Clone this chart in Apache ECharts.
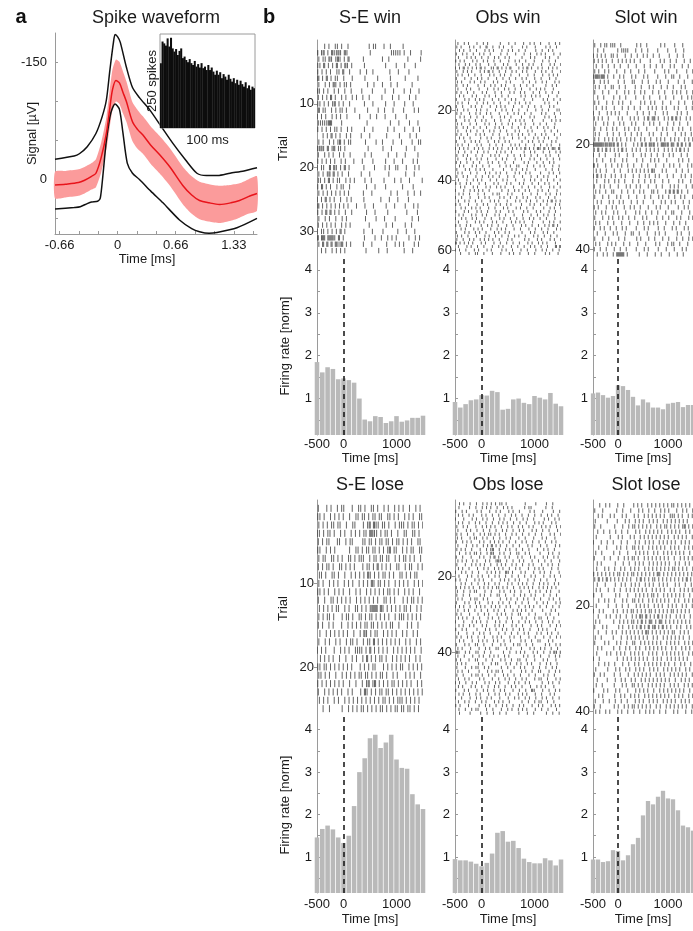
<!DOCTYPE html>
<html>
<head>
<meta charset="utf-8">
<script src="https://cdn.jsdelivr.net/npm/echarts@6/dist/echarts.min.js"></script>
<style>
  html, body { margin: 0; padding: 0; background: #fff; }
  #c { width: 693px; height: 931px; }
</style>
</head>
<body>
<div id="c"></div>
<script>
// ---------- Panel a: spike waveform (time in ms, signal in µV) ----------
const meanTime = [-0.72, -0.6, -0.45, -0.38, -0.3, -0.25, -0.19, -0.13, -0.09, -0.06, -0.02, 0.02, 0.06, 0.1, 0.17, 0.23, 0.29, 0.38, 0.48, 0.6, 0.75, 0.85, 0.94, 1.05, 1.17, 1.3, 1.4, 1.5, 1.6];
const meanSignal = [7, 6, 4, 1, -4, -8, -28, -59, -92, -115, -127, -124, -112, -100, -74, -64, -57, -44, -32, -16, 8, 20, 27, 30, 32, 30, 27, 22, 18];
const sdSignal = [17, 17, 17, 17, 17, 18, 19, 21, 24, 26, 27, 27, 27, 26, 25, 25, 24, 24, 24, 24, 24, 24, 24, 24, 24, 23, 22, 22, 22];

const upperTime = [-0.72, -0.5, -0.44, -0.35, -0.25, -0.18, -0.13, -0.09, -0.05, -0.03, 0.0, 0.03, 0.1, 0.17, 0.25, 0.37, 0.5, 0.63, 0.78, 0.91, 1.02, 1.15, 1.29, 1.45, 1.6];
const upperSignal = [-26, -30, -33, -42, -59, -80, -102, -140, -175, -186, -183, -176, -144, -118, -105, -89, -68, -47, -25, -8, -5, -5, -8, -11, -15];

const lowerTime = [-0.72, -0.5, -0.43, -0.35, -0.3, -0.23, -0.2, -0.17, -0.13, -0.08, -0.03, 0.02, 0.06, 0.11, 0.17, 0.25, 0.38, 0.52, 0.71, 0.85, 0.94, 1.05, 1.14, 1.37, 1.6];
const lowerSignal = [38, 36, 35, 31, 29, 28, 24, -5, -50, -85, -97, -90, -60, -21, -8, 0, 15, 30, 52, 63, 67, 69, 68, 62, 50];

const waveTickPos = [-6/9, -4/9, -2/9, 0, 2/9, 4/9, 6/9, 8/9, 10/9, 12/9, 14/9];
const waveLabelPos = [-2/3, 0, 2/3, 4/3];
const waveLabels = ['-0.66', '0', '0.66', '1.33'];
const signalTicks = [-150, -100, -50, 0, 50];
const signalLabels = [-150, 0];

// Inter-spike interval histogram (inset), spike counts per bin
const isiCounts = [207, 276, 270, 263, 286, 260, 288, 254, 244, 252, 233, 246, 254, 223, 228, 217, 210, 220, 207, 201, 214, 196, 204, 193, 207, 191, 196, 185, 201, 185, 193, 180, 170, 183, 170, 178, 159, 172, 164, 154, 170, 157, 148, 159, 143, 154, 138, 151, 140, 132, 146, 127, 136, 122, 132, 127];

// ---------- Panel b: PSTH (100 ms bins, centres in ms) ----------
const binCenters = [-500, -400, -300, -200, -100, 0, 100, 200, 300, 400, 500, 600, 700, 800, 900, 1000, 1100, 1200, 1300, 1400, 1500];
const rateSEwin   = [1.85, 1.61, 1.73, 1.69, 1.45, 1.47, 1.43, 1.37, 1.0, 0.51, 0.47, 0.59, 0.57, 0.43, 0.47, 0.59, 0.46, 0.49, 0.55, 0.55, 0.6];
const rateObswin  = [0.92, 0.79, 0.87, 0.96, 0.98, 1.08, 1.07, 1.18, 1.15, 0.74, 0.76, 0.98, 1.0, 0.9, 0.87, 1.06, 1.02, 0.98, 1.13, 0.88, 0.82];
const rateSlotwin = [1.12, 1.14, 1.08, 1.02, 1.06, 1.31, 1.29, 1.2, 1.04, 0.84, 0.98, 0.91, 0.79, 0.79, 0.75, 0.88, 0.9, 0.92, 0.8, 0.85, 0.85];
const rateSElose  = [1.46, 1.66, 1.74, 1.65, 1.46, 1.33, 1.5, 2.2, 3.0, 3.33, 3.8, 3.88, 3.57, 3.7, 3.88, 3.3, 3.1, 3.08, 2.48, 2.24, 2.13];
const rateObslose = [0.95, 0.92, 0.92, 0.89, 0.84, 0.78, 0.86, 1.08, 1.57, 1.61, 1.36, 1.38, 1.21, 0.96, 0.88, 0.85, 0.85, 0.97, 0.92, 0.8, 0.94];
const rateSlotlose = [0.94, 0.94, 0.88, 0.9, 1.16, 1.14, 0.92, 1.04, 1.3, 1.45, 1.98, 2.32, 2.24, 2.42, 2.56, 2.38, 2.36, 2.1, 1.74, 1.7, 1.62];

const rateTicks = [0.5, 1, 1.5, 2, 2.5, 3, 3.5, 4];
const rateLabels = [1, 2, 3, 4];
const timeLabels = [-500, 0, 1000];

const trialTicksSEwin = [10, 20, 30];
const trialTicksObswin = [20, 40, 60];
const trialTicksSlotwin = [20, 40];
const trialTicksSElose = [10, 20];
const trialTicksObslose = [20, 40];
const trialTicksSlotlose = [20, 40];

// Rasters: one string per trial, 50 bins of 40 ms from -500 to 1500 ms;
// each character is the spike count in that bin ('.' = none).
// The matching shift string gives, per trial, the spike phase inside
// its bins in 10 ms steps (0-3).
const rasterSEwin = [
  "...1.1..11 .1..1..... ....1.11.. .1..1..... 1.........",
  "2.12.1.211 21.21..... .....1.... .....11111 .1..1....1",
  "1.11.21.12 1.1.2..... .1........ 1..1...... ..1.....1.",
  "11.2.1.1.2 .1.21.1... ..1....... ..1....1.. .1....1...",
  "1.1.1.1..1 1.2..1.... 1..1..1... ....1...1. ...1......",
  "2.1.2.1.11 ..1...1... ..1.....1. ....1..... .1.....1..",
  "1..1.1.21. 1.11.1.... ...1..1... 1...1..1.. ....1.....",
  "21.1.1..1. 1..1..1... .1....1... ..1...1... .1..1...1.",
  "1.1.1.2.1. .1.1..1.1. .1..1..... 1....1..1. ...1..1...",
  "11.1.1.12. 1.1..1.... ..1...1... ..1...1... .1...1....",
  "2.11..1.1. 11.1...1.. ...1....1. .1...1.... 1....1.1..",
  "1.1.1..1.1 .1..1..... 1....1..1. ..1....1.. ..1.......",
  "1111122... .1........ ...1...... ....1...1. ...1...1..",
  "1.1.1.1.11 .1..1.1... ..1...1... ...1..1... .1...1..1.",
  "..1.1.2.1. 1..1.1.... 1...1..... ..1.....1. ...1..1...",
  "1.1..1.1.1 2.1.11.... ..1....1.. 1....1...1 ....1..11.",
  "2121.2.12. 11.1...... ....1..... .1...1.... ..1...1...",
  "1..1.1.1.. 1.1..1.... ..1..1.... ...1...1.. .1.....1..",
  "1.1.1.1.1. .1.1...1.. .1....1... ..1...1... 1....1.1..",
  "1.11..2.21 .1.2.1.... ..1....1.. ..1.1..11. ..1...1.1.",
  "1.1.12.2.1 .1..1..... 1...1..... ...1...... .1...1....",
  "11.1.2.1.1 1..1.1.1.. ..1..1.... .1....1..1 ...1.....1",
  "1.2.1.1..1 .11..1.... ...1...1.. ..1....... 1....1....",
  "1.1.1.1.1. 1.1.1..... .1...1.... ....1..1.. ..1..1..1.",
  "1.1.2.1.1. .1..1.1... ..1....... 1...1...1. ...1......",
  "2.1.1.1.1. 1.1.1...1. ..1...1... ..1...1... .1...1.1..",
  "1.1.2.2.1. 1..1..1... ...1...1.. ...1...... ..1....1..",
  "1..1.1..1. .1.1...... ..1....1.. .1....1... ....1..1..",
  "1.1.1.1.1. .1.1.1.... ....1..... ..1..1.... .1..1.....",
  "1.11.1.1.1 .2.1...... ..1...1... .1......1. ..1...1...",
  "2.22.2221. 2.1....... ..1....1.. 1..1.1.1.. ...1..1.1.",
  "1.2.2.2.21 12.1.1.... .1...1.... ..1...1.1. 1....1.1..",
  "..1.1..1.1 .1.1...... ...1.....1 ...1...... .1...1...."
];
const shiftSEwin = "2031123021 3021330210 3213021320 130";

const rasterObswin = [
  ".1..1.1... 1..1.1.... .1...1..1. ..1..1.1.. 1...1..1.1",
  "1.1...1.1. .1..2..1.. 1.1...1... .1.1...1.. ..1.1..1..",
  "..1.1..1.. 1...1.1.1. ..1..1.1.. 1..1....1. .1..1.1...",
  "1..1.1..1. .1.1..1... .1..1...1. ..1..1..1. 1.1...1..1",
  ".1...1.1.1 ..1..1..1. 1..1.1.... .1...1.1.. ..1.1...1.",
  "1.1.1...1. 1..1.1..1. .1...1..1. 1..1...1.. .1..1..1..",
  ".1..1.1..1 .1...1..1. ..1.1...1. .1..1.1... 1...1.1..1",
  "1.1.2.1.1. 1.2.1..11. 2.1.1.2... 1.1.2.1..1 .1..1.1.1.",
  "1..1.1.1.. .1.1.2.1.. 1..1..1.1. .1.1...1.. 1.1..1...1",
  ".1.1..1..1 ..1...1.1. .1.1..1... 1...1..1.. .1..1.1.1.",
  "1...1..1.. 1.1..1...1 ..1..1..1. .1.1...1.. 1...1..1..",
  ".1.1...1.1 ..1.1...1. 1...1.1... ..1..1..1. .1.1...1.1",
  "1..1.1.... 1..1..1.1. .1.1...1.. 1..1..1... ..1..1.1..",
  ".1...1.1.. .1...1..1. 1..1.1..1. .1...1..1. 1.1...1...",
  "1.1..1..1. ..1.1...1. .1...1.1.. 1.1...1..1 ..1..1..1.",
  "..1.1...1. 1...1.1..1 ..1..1.... .1.1..1.1. 1...1...1.",
  "1...1.1..1 .1.1...1.. 1..1..1.1. ..1...1... .1.1..1..1",
  ".1.1..1... 1..1.1..1. .1...1..1. 1..1.1.... ..1.1...1.",
  "1..1...1.1 ..1...1..1 .1.1...1.. .1..1..1.. 1...1.1...",
  ".1..1.1... 1.1..1...1 ..1.1..1.. 1...1...1. .1..1...11",
  "1.1...1..1 .1..1.1... 1...1..1.1 ..1..1.... 1.1...1..1",
  "..1.1..1.. 1..1...1.. .1.1..1... .1...1.1.. ..1.1..1..",
  "1...1.1..1 ..1.1...1. .1...1..1. 1.1...1... .1...1.1.1",
  ".1.1...1.. 1...1.1..1 ..1..1.1.. .1.1...1.. 1..1...1..",
  "1..1.1..1. .1..1...1. 1.1...1..1 ..1..1..1. .1.1..1...",
  ".1...1.1.. 1..1..1.1. .1..1...1. 1...1.1... ..1..1..1.",
  "1.1..1...1 .1.1...1.. 1...1.1..1 .1..1..1.. 1.1...1..1",
  "..1.1..1.. ..1..1.1.. .1.1...1.. 1..1...1.1 ..1.1...1.",
  "1...1..1.1 .1...1..1. 1..1.1.... .1..1.1..1 .1...1.1..",
  ".1.1..1... 1.1...1..1 ..1...1.1. 1..1...1.. 1..1.1...1",
  "1.1.1.1..1 .1.1..1.1. 1.1..1.1.1 .1.2.1.1.2 1.2.1.21.2",
  ".1..1..1.. 1..1.1...1 .1.1..1... ..1..1.1.. .1..1..1.1",
  "1..1.1...1 ..1...1.1. 1...1..1.. 1.1..1..1. ..1.1...1.",
  ".1...1.1.. 1.1..1...1 ..1.1...1. .1...1.1.. 1..1..1..1",
  "1.1..1..1. .1...1.1.. 1..1...1.. ..1.1...1. .1..1.1...",
  "..1.1...1. 1..1..1... .1..1.1..1 1...1..1.. 1.1...1..1",
  "1...1.1..1 .1.1...1.. ..1...1.1. .1.1...1.. ..1..1..1.",
  ".1.1...1.. 1...1.1..1 .1..1...1. 1..1.1.... 1...1.1..1",
  "1..1.1...1 ..1..1.1.. 1...1..1.. .1...1..1. .1.1...1..",
  ".1...1..1. 1.1...1..1 ..1.1...1. ..1..1.1.. 1..1..1..1",
  "1.1..1.1.. .1..1...1. 1...1.1... 1.1...1..1 ..1.1...1.",
  "..1.1...1. 1...1.1..1 .1.1...1.. .1..1..1.. 1...1.1..1",
  "1...1..1.1 .1.1..1... ..1..1..1. 1..1.1...1 .1..1...1.",
  ".1.1..1... 1..1...1.1 1...1.1... .1...1..1. ..1.1..1.1",
  "1..1...1.. .1..1.1... .1.1..1..1 ..1.1...1. 1...1..1..",
  ".1..1.1..1 ..1...1.1. 1...1...1. 1..1.1..1. .1.1.2.1.1",
  "1.1...1... 1..1.1...1 .1..1.1... .1...1.1.. 1..1...1.1",
  "..1.1..1.1 .1...1..1. ..1.1...1. 1..1..1... .1..1.1..1",
  "1...1.1... 1.1..1...1 .1...1.1.. ..1.1...1. 1...1..1..",
  ".1.1...1.1 ..1.1...1. 1..1...1.. .1...1..1. .1.1..1..1",
  "1..1.1..1. 1...1..1.. .1.1..1..1 ..1..1.1.. 1..1...1..",
  ".1...1...1 .1.1...1.1 ..1...1.1. 1.1...1... .1..1.1..1",
  "1.1..1.1.. ..1..1.1.. 1...1..1.. .1.1..1..1 ..1.1.2.1.",
  "..1.1...1. 1.1...1..1 .1.1...1.. 1...1..1.. 1..1...1.1",
  "1...1.1..1 .1..1...1. 1..1.1.... .1...1.1.. .1.1..1...",
  ".1.1..1... 1...1.1..1 ..1..1..1. 1..1...1.1 ..1..1..1.",
  "1..1..1.1. .1.1.1.1.. 1...1.1... ..1.1...1. 1...1.1..1",
  "2.1.1.1.1. ..1.1...1. .1..1..1.. 1...1.1..1 .1.1...1..",
  ".1...1.1.. 1..1...1.. 1.1...1..1 ..1..1.1.. 1..1...2.2",
  "1.1..1...1 .1...1.1.. ..1.1..1.. .1..1...1. .1.1..1..1",
  "..1...1..1 1..1...1.. .1...1.1.. 1...1..1.. ..1.1...1."
];
const shiftObswin = "1302213031 2031302120 3120313021 0231203132 1203021313 0213203120 2";

const rasterSlotwin = [
  "1..1.11.11 1..1...... .1.1..1... ...1.1.... 1...1.....",
  "..1..1.... ..1.1111.. .1..1..1.. ..1....1.. .1...1....",
  "1.1.1.1..1 1.1...1..1 ..1..1.1.. 1..1....1. ..1..1....",
  "1.1.1.1..1 ..1.1.1.1. 1..1....1. ...1.1..1. .1...1..1.",
  ".1..1..1.. 1..1...1.. .1...1..1. .1..1...1. 1...1..1..",
  "1.1..1.1.. .1...1..1. ..1..1.... 1....1.1.. .1....1..1",
  "122122.1.. 1..1.1...1 .1...1.1.. ..1...1..1 1..1...1..",
  "1..1.1.1.. ..1..1...1 1...1..1.. .1.1...1.. ..1..1...1",
  ".1.1..1..1 1..1..1... .1..1...1. 1...1..1.. 1...1.1...",
  "1...1..1.. .1...1.1.. 1..1.1...1 ..1..1...1 .1.1..1..1",
  "..1..1.... 1..1..1... .1...1..1. ...1..1... 1...1..1.1",
  "1.1...1..1 ..1.1...1. ...1.1..1. 1...1...1. ..1..1...1",
  ".1..1.1... 1...1..1.. 1..1...1.1 .1..1.1... 1.1...1..1",
  "1..1...1.1 .1.1...1.. ..1..1..1. .1...1.1.. ..1.1..1..",
  "1.1.1..1.. ..1.1...1. 1.1..1.2.1 2.1..1.1.2 .2.1..1.1.",
  ".1...1.1.. 1..1.1...1 .1...1..1. 1..1...1.. 1..1...1..",
  "1..1..1..1 .1...1.1.. 1.1...1... .1..1.1..1 ..1.1...1.",
  ".1.1...1.. 1..1..1..1 ..1.1...1. 1...1..1.. .1..1.1..1",
  "1.1..1.1.1 .1.1..1.1. 1..1.1..1. .1.1.1..1. 1.1..1.1.1",
  "2222212121 2.2.1.1... 1.1.2.2.21 2.1.2212.2 1.2.2.1.2.",
  "1.2.1.2.1. 1.1.2.1..1 .1.1..1.1. 1.1..1.1.1 .1.2.1.1..",
  "1..1..1... .1.1...1.. 1...1.1..1 ..1..1..1. 1...1..1..",
  ".1..1...1. 1...1.1... .1..1...1. 1.1...1... ..1.1..1..",
  "2.1...1..1 ..1.1..1.. 1...1..1.. .1...1..1. 1..1...1.1",
  ".1.1..1... 1..1...1.1 .1.1.1.1.2 1...1.1... .1..1..1..",
  "1.2.1.1..1 .1..1.1... 1..1..1.1. .1.1...1.. 1...1.1..1",
  ".1...1.1.. 1.1..1...1 ..1..1..1. 1...1..1.. ..1.1...1.",
  "1..1.1..1. ..1...1.1. .1.1...1.. .1..1...1. 1.1...1..1",
  ".1.1..1..1 1...1..1.. 1..1.1...1 1.1...1.2. 2.2.1..1..",
  "1...1..1.. .1.1...1.. .1...1..1. ..1.1..1.. 1..1.1...1",
  "..1.1...1. 1..1.1...1 ..1..1.... 1...1.1..1 .1...1..1.",
  "1.1...1..1 .1...1..1. 1..1...1.. .1.1...1.. ..1..1.1..",
  ".1..1.1... 1.1...1... .1.1..1..1 ..1...1..1 1...1...1.",
  "1...1..1.1 ..1.1..1.. 1...1.1... .1..1..1.. .1.1...1.1",
  ".1.1...1.. 1...1...1. ..1..1..1. 1.1...1... 1..1..1...",
  "1..1.1..1. .1..1.1... .1...1.1.. ..1..1...1 .1...1.1..",
  "..1...1... 1.1...1..1 1..1...1.. .1.1..1... ..1.1...1.",
  "1...1..1.. ..1..1.... .1.1...1.. 1...1..1.. .1..1..1.1",
  ".1.1...1.1 .1...1..1. ..1...1... .1.1...1.1 1..1...1..",
  "1..1..1... 1..1..1... .1...1.1.. ..1...1... 1...1.1...",
  "..1..1.1.. 1.2222.1.. ...1...1.. .1..1...1. ..1..1...."
];
const shiftSlotwin = "3102231203 1320213031 2031203213 0213120312 0";

const rasterSElose = [
  "1...1.1..1 .11...1..1 1.1..11.1. .1.1..1.1. 1..1..1.1.",
  "11.1..1.1. 1.1..1..11 .11.1.11.1 1..11.1.1. .1.1.1..11",
  "1.1.1.11.1 1..1..11.. .1.12.211. 11.1..1.11 1.1.11.1.1",
  "11.1.11.1. .1.1..1.1. 1.11.2211. 1.11.1..1. .11..11.1.",
  "1.1.11...1 1..1.11... .11.11.1.1 1.11.1.11. 1.1.1..11.",
  "11..1.1.1. .....1..11 .1.11.11.1 .1.12.11.. 1.1.11..11",
  "1.11..11.1 .1..11.1.1 11..1.11.1 1.11..1.1. 11.1.1..1.",
  "1.1.11.1.. 11.1.1.1.. .1.11.1.2. 1.1.1..11. .1.11..1.1",
  ".11.1..11. 1..1..1.1. 1.1.21.1.1 .11.1.1..1 1.1.1.11..",
  "1.1..1.1.1 ..1.1.1..1 .1.1.21.11 .1.1..1.1. 1.1..1.1.1",
  "11.1.1..1. 1.1..1..1. 1..1.1.1.1 .1.11.1.1. .1.1.1..1.",
  "1..1..11.1 .1.1.1..1. 1.1.1.1.1. .11.1.1... 1.1.11.1.1",
  ".1.1.1.1.1 1..1.1..11 .1.1.1222. 21.1.1.1.1 .11.1..1.1",
  "1.1.11.1.. .1.11.1..1 1.1.11.1.1 .1.1..1.11 1.1.1.1.1.",
  "1.1..1.1.. .1..1.1.1. 1.11.11.1. 1.1.11..1. ..1.1..1..",
  ".1..1.1.1. 1.1.1..1.. 1.21.1.11. .1.1.1.1.. 1.1..1.1..",
  "1..1.1..1. 1..1.11.1. .1.11.2.1. 1.1.1.1.1. .1.1..1.1.",
  "1.1.1...1. .1.1.1..11 11.1.2.1.1 .1.1..1.1. 1.1.1.1..1",
  ".1.1.1.1.. 1..1..1.1. .1.2.1.1.1 1.1..1.1.1 .1.1..1.1.",
  "11.11.1.1. 1.1.1.1... 1.1.1.11.. .1.1.1.1.1 1..1.1.1.1",
  "11.1.1..1. .1.1.1.1.1 1.11.1.1.1 1.1..1.1.. .1.1.1..1.",
  "1.1.1.1.1. 1.1..1..1. .1.12.12.1 .1.1.11.1. 1.1.1..1.1",
  "1..1.1.1.1 .1..1.1... 1.21.1.1.1 1.11.1.1.1 .1.1.1.1.1",
  ".1.1.1..1. 1..1.1.1.1 .1.1.1.1.1 .11.1.1.11 1.1.1.1.1.",
  "..1..1.... .1..1.1.1. 11.1.1.1.1 1.1.1.11.1 1.11.1.1.."
];
const shiftSElose = "2130213203 1203213021 31203";

const rasterObslose = [
  "..1.1..1.. 1..1.1.1.1 .11.1..... ...1....1. ...1..1...",
  ".1....1..1 ..1.1.1..1 ..1.1.1... ..1.11.... ..1..1....",
  "1..1.1.... 1.1...1..1 .1...1.1.. 1....1.1.. .1....1..1",
  ".1.1..1.1. ..1.1..1.. 1..1..1.1. .1..1..1.. 1..1.1..1.",
  "1...1...1. 1..1.1..1. .1.1..1..1 ..1.1..1.. ..1.1..1.1",
  ".1.1..1..1 .1..1..1.. 1.1.1..1.. 1..1...1.1 .1...1.1..",
  "1..1.1...1 ..1.1.1.1. .1..1.1..1 .1..1.1... 1.1.1..1.1",
  ".1...1.1.. 1..1..1..1 ..1.1..1.. 1.1...1.1. .1..1...1.",
  "1.1..1..1. .1.1.11.1. 1..1..1.1. .1..1..1.. 1...1.1..1",
  ".1.1...1.1 1..1.1..1. .1..1.1... 1..1...1.. .1.1...1..",
  "1..1.1.1.. .1.1..1.1. 1.1..1..1. .1.1..1..1 ..1..1.1..",
  ".1...1..1. 1..1.1.2.1 .1..1..1.. 1...1.1... 1..1...1.1",
  "1.1.1..1.. .1..1.12.. 1..1.1..1. .1..1...1. .1.1..1...",
  "..1..1.1.1 1.1..1.21. .1.1..1..1 1..1.1.... 1...1.1..1",
  "1..1...1.. .1.1..1.2. 1..1.1...1 .1...1.1.. .1.1..1.1.",
  ".1.1.1..1. 1...1.1..1 21..1..1.. 1.1...1..1 ..1..1...1",
  "1...1..1.1 .1.1..1..1 .1.1..1.1. .1..1.1... 1..1.1..1.",
  ".1.1..1... 1..1.1..1. 1.1..1..1. 1...1..1.1 .1...1..1.",
  "1..1.1..1. .1...1.1.1 .1..21.1.. .1.1...1.. 1.1..1...1",
  ".1...1.1.. 1.1..1..1. 1..1..1..1 ..1..1.1.. .1..1.1..1",
  "1.1..1...1 .1.1...1.. .1.1.1..1. 1...1..1.. 1..1...1..",
  "..1.1..1.. 1..1.1..1. 1...1.1..1 .1.1..1..1 .1.1..1.1.",
  "1.1.1.1.1. .1.1.1.1.1 1.1.1..1.. 1.1.1.1..1 .1.1.1.1..",
  ".1..1..1.1 1...1..1.. .1.1..1.1. .1...1..1. 1..1.1...1",
  "1..1..1... .1.1..1..1 1..1...1.. 1.1..1.1.. .1..1..1..",
  ".1.1...1.1 1..1.1.... .1..1.1..1 ..1.1..1.. 1...1.1..1",
  "1...1.1..1 .1...1.1.. 1.1..1..1. .1..1...1. .1.1...1.1",
  "1.1.1..1.. 1.1.1..1.1 .1..1.1... 1..1.1.1.. 1..1..1..1",
  ".1..1.1..1 ..1..1..1. 1..1...1.1 .1.1..1... .1...1.1..",
  "1.1...1... 1..1.1...1 .1.1..1..1 1...1..1.. ..1.1...1.",
  ".1.1.1..1. .1...1.1.. 1...1.1... .1.1...1.1 1..1..1...",
  "1...1...1. 1.1..1...1 .1..1..1.. 1..1.1..1. .1..1.1..1",
  ".1.1..1.1. ..1.1...1. 1.1...1.1. .1...1..1. 1...1..1.1",
  "1..1.1.... 1...1.1..1 ..1.1..1.. 1.1..1...1 .1.1...1..",
  ".1...1..1. .1.1..1... 1..1..1..1 ..1.1...1. 1..1.1..1.",
  "1.1..1.1.. 1..1...1.1 .1...1.1.. 1...1..1.. .1..1..1.1",
  "..1.1...1. .1.1.1..1. 1..1..1... .1.1..1..1 1...1.1...",
  "1...1.1..1 1..1...1.. .1.1...1.1 1..1..1... ..1.1..1.1",
  ".1.1...1.. .1..1.1..1 1...1.1... .1...1.1.. 1.1..1..1.",
  "21..1.1..1 1..1..1... ..1..1..1. 1.1...1.1. .1..1.21.2",
  ".1..1...1. .1.1..1.1. 1..1.1.... ..1.1..1.. 1...1..1.1",
  "1.1...1..1 1...1..1.. .1.1..1..1 1..1...1.. .1.1...1..",
  ".1.1.1.... .1.1...1.1 1...1.1..1 .1..1.1... 1..1.1..1.",
  "1...1..1.1 1..1.1.... .1..1..1.. 1.1...1..1 ..1..1.1..",
  ".1.1..1... .1...1.1.1 1.1...1... .1.1..1..1 1...1..1.1",
  "1..1...1.1 1.1..1..1. ..1.1..1.. 1...1..1.. .1.1..1...",
  ".1..1.1... .1.1...1.. 1..1.1..1. .1.1...1.1 1..1...1.1",
  "1.1..1..1. 1...1.1..1 .1...1..1. 1..1.1.... .1..1.1..1",
  ".1.1...1.1 ..1..1..1. 1..1..1.1. .1...1..1. 1.1...1...",
  "1...1.1... 1..1.1..1. .1.1...1.. 1..1..21.. .1..1..1.1",
  ".1.1..1..1 .1...1..1. 1..1.1...1 .1.1...1.. 1...1.1...",
  "1..1...1.. 1.1..1.1.. .1...1..1. 1..1.1..1. .1.1..1..1",
  ".1..1.1..1 ..1.1...1. 1.1..1.... .1..1..1.1 1..1..1...",
  "1.1...1... .1..1.1..1 ..1.1..1.. 1.1...1..1 .1...1.1.1",
  ".1..1..1.1 1...1..1.. .1..1.1..1 .1.1...1.. 1..1...1..",
  "..1....1.. ..1..1..1. .1..1..... 1...1..1.. ...1..1..1"
];
const shiftObslose = "0312023130 2130213203 1320312013 2031230213 1203132021 302130";

const rasterSlotlose = [
  "...1..1.1. ..1..1.... 1.1.1..1.1 .1.1.1.1.1 1.1.1.1.1.",
  "1...1..... .1..1...1. ..1.1..1.. 1..1.1.1.. .1..1.1..1",
  "..1.1...1. 1...1.1... 1.1..1.1.1 .1.1.1..11 1.1.1..1.1",
  ".1.....1.. ..1...1.1. .1.1.1..1. 1.1..1.1.1 .1.1.1.1..",
  "1..1...... 1...1..1.1 1.1.1.1.1. .1.1.11.1. 1.1.12.1.1",
  "..1..1..1. .1..1..1.. .1.1..1.1. 1.1.1..1.1 .1.1..1.1.",
  ".1......1. ..1.1...1. 1..1.1.1.1 .1.1.1.1.. 1.1.1.1..1",
  "1...1..1.. 1...1..1.. .1.1..1.1. 1..1.1.1.1 .1..1.1.1.",
  "..1...1... .1.1..1..1 1.1.1..1.1 .1.1.1..1. 1.1..1.1.1",
  ".1..1..... 1..1...1.. .1.1.1.1.. 1.1..1.1.1 .1.1.1..1.",
  "1....1..1. ..1..1.1.1 1.1..1.1.1 .1.1.1.1.. 1..1.1.1.1",
  "..1.1..... .1...1..1. .1.1.1..1. 1.1.1.1.1. .1.1..1.1.",
  ".1...1.1.. 1..1.1..1. 1.1..1.1.1 .1.1.1.1.1 1.1.1.1..1",
  "1.1.1.1.1. 1.11.1.1.1 1.1.1.1.1. 1.21.1.1.1 .1.1.1.1.1",
  "1.2.1.2.1. 1.1.1.1.1. .1.2.1.1.1 1.1.1.1.1. 1.1.1.2.1.",
  "..1...1... .1..1.1..1 .1.1..1.1. 1..1.1.1.. .1.1..1..1",
  ".1.1...1.. 1..1..1.1. 1.1.1.1..1 .1.1.1..1. 1..1.1.1.1",
  "1...1..... .1.1...1.. .1.1.1.1.1 1.1..1.1.1 .1.1.1..1.",
  "..1..1.1.. 1...1.1..1 1.1.1..1.1 .1.1.1.1.. 1.1..1.1.1",
  ".1.....1.. .1..1..1.. .1.1.1.1.. 1.1.1..1.1 .1..1.1..1",
  "1..1.1.... 1.1..1.1.1 1.1.1.1.11 .1.1.1.1.1 1.1.1.1.1.",
  "..1...1.1. .1.1..1..1 .1.21.2.1. 1.2.1.1.1. .1.1.1..1.",
  ".1.1...... 1..1.1.1.1 1.1.2.1.21 .1.21.1.1. 1.1.1.1.1.",
  "1...1.1... ..1.1..1.1 .1.2.1.2.1 2.1.2.1.1. .1.1..1.1.",
  "..1...1..1 .1..1.1.1. 1.1.1.21.1 .1.1.1.1.1 1..1.1.1..",
  ".1..1..... 1...1..1.1 .1.1.1.1.. 1.1..1.1.1 .1.1.1..1.",
  "1....1.1.. .1.1..1..1 1..1.1.1.1 .1.1..1.1. 1.1..1.1.1",
  "..1.1..... 1..1..1.1. .1.1..1.1. 1.1.1.1..1 .1..1.1.1.",
  ".1....1.1. .1.1.1..1. 1.1.1..1.1 .1..1.1.1. 1.1.1..1.1",
  "1..1...... ..1..1.1.1 .1.1.1.1.. 1.1.1..1.1 .1.1.1.1..",
  "..1..1.1.. 1...1..1.. 1.1..1.1.1 .1.1.1.1.. 1..1.1..1.",
  ".1.....1.. .1.1..1.1. .1.1.1..1. 1.1..1.1.1 .1.1..1.1.",
  "1..1.1.... 1..1...1.. 1.1.1.1.1. .1.1.1..1. 1.1.1.1..1",
  "..1....1.. .1..1.1..1 .1..1.1.1. 1.1.1.1.1. .1..1.1.1.",
  ".1..1..... 1...1.1..1 1.1.1..1.1 .1.1.1..1. 1.1..1.1.1",
  "1....1.1.. .1.1...1.. .1.1.1.1.. 1..1.1.1.1 .1.1.1..1.",
  "..1.1..... 1..1.1..1. 1.1..1.1.1 .1.1.1.1.. 1.1.1..1.1",
  ".1...1..1. .1..1..1.. .1.1.1..1. 1.1..1.1.1 .1..1.1.1.",
  "1..1...... 1.1..1.1.1 1.1.1.1.1. .1.1..1.1. 1.1.1.1..1",
  ".1.1..1.1. ..1.1..1.. 1..1..1.1. 1..1..1... 1.1...1..1"
];
const shiftSlotlose = "1320312031 2031302132 0213203130 3120213021";

// ---------- drawing ----------
const FONT = '"Liberation Sans", Arial, Helvetica, sans-serif';
const TXT = '#1a1a1a';
const AXC = '#9a9a9a';
const T0 = -500, T1 = 1500;

function rasterPoints(rows, shifts) {
  const phase = shifts.replace(/\s+/g, '');
  const pts = [];
  rows.forEach((row, k) => {
    const s = row.replace(/\s+/g, '');
    const n = s.length;
    const w = (T1 - T0) / n;
    const off = (Number(phase[k] || 0) - 1.5) * 10;
    for (let i = 0; i < n; i++) {
      const c = s[i] === '.' ? 0 : Number(s[i]);
      for (let j = 0; j < c; j++) {
        pts.push([T0 + (i + (j + 0.5) / c) * w + off, k + 1]);
      }
    }
  });
  return pts;
}

const panels = [
  { title: 'S-E win',   col: 0, row: 0, raster: rasterSEwin,    shift: shiftSEwin,    rate: rateSEwin,    trials: 34,   ticks: trialTicksSEwin },
  { title: 'Obs win',   col: 1, row: 0, raster: rasterObswin,   shift: shiftObswin,   rate: rateObswin,   trials: 62,   ticks: trialTicksObswin },
  { title: 'Slot win',  col: 2, row: 0, raster: rasterSlotwin,  shift: shiftSlotwin,  rate: rateSlotwin,  trials: 41.5, ticks: trialTicksSlotwin },
  { title: 'S-E lose',  col: 0, row: 1, raster: rasterSElose,   shift: shiftSElose,   rate: rateSElose,   trials: 26,   ticks: trialTicksSElose },
  { title: 'Obs lose',  col: 1, row: 1, raster: rasterObslose,  shift: shiftObslose,  rate: rateObslose,  trials: 57,   ticks: trialTicksObslose },
  { title: 'Slot lose', col: 2, row: 1, raster: rasterSlotlose, shift: shiftSlotlose, rate: rateSlotlose, trials: 41,   ticks: trialTicksSlotlose }
];

const colLeft = [317, 455, 593];
const colW = 106;
const rasterTop = [40, 500], rasterH = [217, 217];
const psthTop = [257, 717], psthH = [178, 176];
const titleY = [18, 485];
const timeNameGap = [17, 20], timeLabelMargin = [3, 5];

const labelStyle = { color: TXT, fontSize: 13, fontFamily: FONT };
const nameStyle = { color: TXT, fontSize: 13, fontFamily: FONT };

const grid = [], xAxis = [], yAxis = [], series = [], texts = [];

// waveform grid (0)
grid.push({ left: 55, top: 33, width: 202, height: 201, containLabel: false });
xAxis.push({
  type: 'value', gridIndex: 0, min: -0.72, max: 1.6,
  axisLine: { show: true, onZero: false, lineStyle: { color: AXC, width: 1 } },
  axisTick: { show: true, inside: true, length: 3, customValues: waveTickPos, lineStyle: { color: AXC } },
  axisLabel: Object.assign({ margin: 5, customValues: waveLabelPos,
    formatter: v => { const i = waveLabelPos.findIndex(p => Math.abs(p - v) < 1e-6); return i >= 0 ? waveLabels[i] : ''; } }, labelStyle),
  splitLine: { show: false },
  name: 'Time [ms]', nameLocation: 'middle', nameGap: 19, nameMoveOverlap: false,
  nameTextStyle: Object.assign({ padding: [0, 18, 0, 0] }, nameStyle)
});
yAxis.push({
  type: 'value', gridIndex: 0, inverse: true, min: -188, max: 70,
  axisLine: { show: true, onZero: false, lineStyle: { color: AXC, width: 1 } },
  axisTick: { show: true, inside: true, length: 3, customValues: signalTicks, lineStyle: { color: AXC } },
  axisLabel: Object.assign({ margin: 8, customValues: signalLabels, formatter: v => String(v) }, labelStyle),
  splitLine: { show: false },
  name: 'Signal [µV]', nameLocation: 'middle', nameGap: 16, nameMoveOverlap: false, nameTextStyle: nameStyle
});

// standard deviation band around the mean waveform
series.push({
  type: 'custom', xAxisIndex: 0, yAxisIndex: 0, z: 1, silent: true,
  data: [[meanTime[0], meanSignal[0]]],
  renderItem: (params, api) => {
    const top = meanTime.map((t, i) => api.coord([t, meanSignal[i] - sdSignal[i]]));
    const bottom = meanTime.map((t, i) => api.coord([t, meanSignal[i] + sdSignal[i]])).reverse();
    return { type: 'polygon', shape: { points: top.concat(bottom), smooth: 0.2 }, style: { fill: '#fb9b9b' } };
  }
});
series.push({
  type: 'line', xAxisIndex: 0, yAxisIndex: 0, z: 3, showSymbol: false, smooth: 0.25,
  data: upperTime.map((t, i) => [t, upperSignal[i]]),
  lineStyle: { color: '#111', width: 1.5 }
});
series.push({
  type: 'line', xAxisIndex: 0, yAxisIndex: 0, z: 3, showSymbol: false, smooth: 0.25,
  data: lowerTime.map((t, i) => [t, lowerSignal[i]]),
  lineStyle: { color: '#111', width: 1.5 }
});
series.push({
  type: 'line', xAxisIndex: 0, yAxisIndex: 0, z: 4, showSymbol: false, smooth: 0.3,
  data: meanTime.map((t, i) => [t, meanSignal[i]]),
  lineStyle: { color: '#e8141b', width: 1.5 }
});

// ISI inset grid (1)
grid.push({ left: 160, top: 34, width: 95, height: 94, show: true, borderColor: '#9a9a9a', borderWidth: 1, backgroundColor: '#fff', z: 5 });
xAxis.push({
  type: 'category', gridIndex: 1, data: isiCounts.map((_, i) => i), boundaryGap: true,
  axisLine: { show: false, onZero: false }, axisTick: { show: false }, axisLabel: { show: false }, splitLine: { show: false },
  name: '100 ms', nameLocation: 'middle', nameGap: 6, nameMoveOverlap: false, nameTextStyle: nameStyle
});
yAxis.push({
  type: 'value', gridIndex: 1, min: 0, max: 300,
  axisLine: { show: false, onZero: false }, axisTick: { show: false }, axisLabel: { show: false }, splitLine: { show: false },
  name: '250 spikes', nameLocation: 'middle', nameGap: 1, nameMoveOverlap: false, nameTextStyle: nameStyle
});
series.push({
  type: 'bar', xAxisIndex: 1, yAxisIndex: 1, data: isiCounts, barWidth: '120%', z: 6, clip: true,
  itemStyle: { color: '#0d0d0d' }, silent: true
});

// raster + PSTH panels
panels.forEach(p => {
  const left = colLeft[p.col];
  // raster
  const gR = grid.length;
  grid.push({ left, top: rasterTop[p.row], width: colW, height: rasterH[p.row], containLabel: false });
  xAxis.push({ type: 'value', gridIndex: gR, min: T0, max: T1, show: false, axisLine: { onZero: false } });
  yAxis.push({
    type: 'value', gridIndex: gR, inverse: true, min: 0, max: p.trials,
    axisLine: { show: true, onZero: false, lineStyle: { color: AXC, width: 1 } },
    axisTick: { show: true, inside: false, length: 3, customValues: p.ticks, lineStyle: { color: AXC } },
    axisLabel: Object.assign({ margin: 3, customValues: p.ticks, formatter: v => String(v) }, labelStyle),
    splitLine: { show: false },
    name: p.col === 0 ? 'Trial' : '', nameLocation: 'middle', nameGap: 27, nameMoveOverlap: false, nameTextStyle: nameStyle
  });
  series.push({
    type: 'custom', xAxisIndex: gR, yAxisIndex: gR, silent: true, clip: true,
    data: rasterPoints(p.raster, p.shift),
    renderItem: (params, api) => {
      const c = api.coord([api.value(0), api.value(1)]);
      const h = api.size([0, 1])[1];
      return { type: 'line', shape: { x1: c[0], y1: c[1] - h * 0.42, x2: c[0], y2: c[1] + h * 0.42 },
               style: { stroke: '#262626', lineWidth: 0.9, opacity: 0.8 } };
    }
  });
  // PSTH
  const gP = grid.length;
  grid.push({ left, top: psthTop[p.row], width: colW, height: psthH[p.row], containLabel: false });
  xAxis.push({
    type: 'value', gridIndex: gP, min: T0, max: T1,
    axisLine: { show: false, onZero: false }, axisTick: { show: false },
    axisLabel: Object.assign({ margin: timeLabelMargin[p.row], customValues: timeLabels, formatter: v => String(v) }, labelStyle),
    splitLine: { show: false },
    name: 'Time [ms]', nameLocation: 'middle', nameGap: timeNameGap[p.row], nameMoveOverlap: false, nameTextStyle: nameStyle
  });
  yAxis.push({
    type: 'value', gridIndex: gP, min: 0.15, max: 4.3,
    axisLine: { show: true, onZero: false, lineStyle: { color: AXC, width: 1 } },
    axisTick: { show: true, inside: true, length: 3, customValues: rateTicks, lineStyle: { color: AXC } },
    axisLabel: Object.assign({ margin: 5, customValues: rateLabels, formatter: v => String(v) }, labelStyle),
    splitLine: { show: false },
    name: p.col === 0 ? 'Firing rate [norm]' : '', nameLocation: 'middle', nameGap: 25, nameMoveOverlap: false, nameTextStyle: nameStyle
  });
  series.push({
    type: 'bar', xAxisIndex: gP, yAxisIndex: gP, silent: true, clip: true,
    data: binCenters.map((c, i) => [c, p.rate[i]]),
    barCategoryGap: '14%',
    itemStyle: { color: '#b9b9b9' },
    markLine: {
      silent: true, symbol: 'none', label: { show: false }, animation: false,
      lineStyle: { color: '#111', type: [5, 4], width: 1.5 },
      data: [{ xAxis: 0 }]
    }
  });
  texts.push({ type: 'text', x: left + colW / 2, y: titleY[p.row],
    style: { text: p.title, fontSize: 18, fontFamily: FONT, fill: TXT, align: 'center', verticalAlign: 'middle' } });
});

texts.push({ type: 'text', x: 156, y: 18,
  style: { text: 'Spike waveform', fontSize: 18, fontFamily: FONT, fill: TXT, align: 'center', verticalAlign: 'middle' } });
texts.push({ type: 'text', x: 21, y: 17,
  style: { text: 'a', fontSize: 20, fontWeight: 'bold', fontFamily: FONT, fill: '#111', align: 'center', verticalAlign: 'middle' } });
texts.push({ type: 'text', x: 269, y: 17,
  style: { text: 'b', fontSize: 20, fontWeight: 'bold', fontFamily: FONT, fill: '#111', align: 'center', verticalAlign: 'middle' } });

const chart = echarts.init(document.getElementById('c'), null, { renderer: 'canvas', width: 693, height: 931 });
chart.setOption({
  animation: false,
  backgroundColor: '#fff',
  textStyle: { fontFamily: FONT },
  grid, xAxis, yAxis, series,
  graphic: { elements: texts }
});
</script>
</body>
</html>
